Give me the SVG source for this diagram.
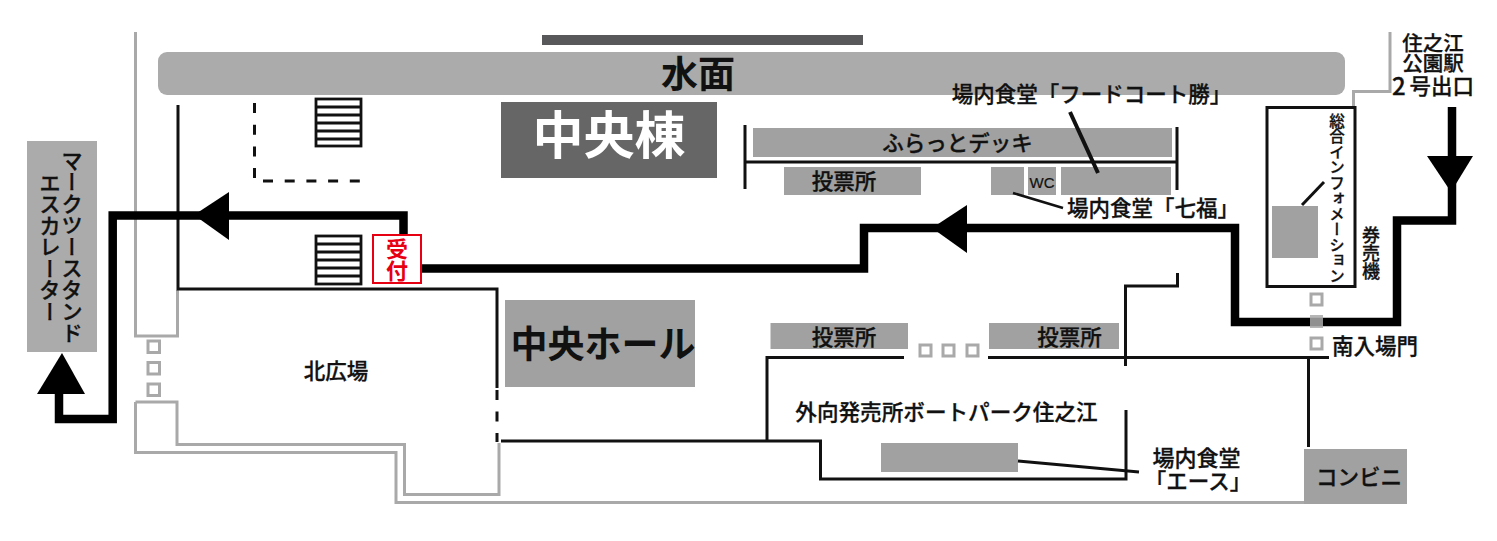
<svg xmlns="http://www.w3.org/2000/svg" width="1497" height="541" viewBox="0 0 1497 541">
<style>
text{font-family:"Noto Sans CJK JP","Noto Sans",sans-serif;fill:#111;stroke:#111;stroke-width:.3;font-size:21.500px;font-weight:500;text-anchor:middle;dominant-baseline:central}
.v{writing-mode:vertical-rl;text-anchor:start;dominant-baseline:auto}
.g{fill:#a0a1a0}
.w{fill:none;stroke:#111;stroke-width:3}
.l{fill:none;stroke:#a8a9a8;stroke-width:3}
.r{fill:none;stroke:#000;stroke-width:8.500}
.sq{fill:#fff;stroke:#a8a9a8;stroke-width:3}
.st{fill:none;stroke:#111;stroke-width:2.800}
.b{font-weight:700;stroke:none}
.red{font-size:22px;font-weight:700;fill:#e60012;stroke:none}
</style>
<g id="walls-grey">
<path class="l" d="M135.500 32V336H177.500V290"/>
<path class="l" d="M135.500 402H177V444.500H404.500V494.500H499V443"/>
<path class="l" d="M135.500 402V452.500H396V502.500H1306"/>
<path class="l" d="M1390 32V91.500H1353.500V107"/>
</g>
<g id="walls-black">
<path class="w" d="M178 105V289H497V388"/>
<path class="w" d="M497 390V442" stroke-dasharray="10 11.500"/>
<path class="w" d="M501 441H820.500V479H1126V410"/>
<path class="w" d="M767 441V357.500H904"/>
<path class="w" d="M988 357.500H1329"/>
<path class="w" d="M1125.500 366V286H1177.500V273"/>
<path class="w" d="M1308.500 357.500V447"/>
<path class="w" d="M745 125V189M1177 127V190M745 162H1177"/>
<path class="w" d="M254.500 103V180" stroke-dasharray="10 11.700"/>
<path class="w" d="M263 181H361" stroke-dasharray="10 11.700"/>
</g>
<g id="water"><rect x="158" y="52" width="1187" height="43" rx="9" fill="#aaabaa"/><text x="698" y="72" class="b" style="font-size:37px">水面</text></g>
<rect id="top-bar" x="542" y="35" width="321" height="10" fill="#58585a"/>
<g id="chuo-to"><rect x="501" y="102" width="216" height="76" fill="#666667"/><text x="609" y="132" class="b" style="font-size:51px;fill:#fff">中央棟</text></g>
<g id="chuo-hall"><rect x="505" y="300" width="190" height="87" fill="#a0a1a0"/><text x="603" y="342" class="b" style="font-size:37px">中央ホール</text></g>
<g id="escalator"><rect x="27" y="141" width="70" height="211" fill="#aaabaa"/><text class="v" x="72" y="150">マークツースタンド</text><text class="v" x="50" y="172">エスカレーター</text></g>
<g id="stairs1"><rect class="st" x="316" y="99" width="45" height="47"/><path class="st" d="M316 107H361M316 115H361M316 123H361M316 131H361M316 139H361"/></g>
<g id="stairs2"><rect class="st" x="316" y="236" width="45" height="48"/><path class="st" d="M316 244H361M316 252H361M316 260H361M316 268H361M316 276H361"/></g>
<g id="north-plaza"><text x="336" y="369.500">北広場</text></g>
<g id="flat-deck"><rect class="g" x="753" y="128" width="419" height="29"/><text x="957.500" y="141.500">ふらっとデッキ</text></g>
<g id="vote1"><rect class="g" x="784" y="167" width="137" height="28"/><text x="844" y="179.500">投票所</text></g>
<g id="shichifuku"><rect class="g" x="991" y="167" width="33" height="28"/></g>
<g id="wc"><rect class="g" x="1028" y="167" width="28" height="28"/><text x="1042" y="182.500" style="font-size:15px;font-family:'Liberation Sans',sans-serif;stroke-width:.2">WC</text></g>
<g id="foodcourt"><rect class="g" x="1061" y="167" width="110" height="28"/></g>
<g id="vote2"><rect class="g" x="770.500" y="323" width="137.500" height="26"/><text x="844" y="335.500">投票所</text></g>
<g id="vote3"><rect class="g" x="989" y="323" width="130" height="26"/><text x="1069.500" y="335.500">投票所</text></g>
<g id="ace"><rect class="g" x="881" y="443" width="137" height="29"/></g>
<g id="conbini"><rect x="1304" y="449" width="103" height="55" fill="#a0a1a0"/><text x="1359" y="475.500">コンビニ</text></g>
<g id="info"><rect x="1267" y="107.500" width="88" height="179" fill="none" stroke="#111" stroke-width="3"/><rect class="g" x="1272" y="206" width="46" height="52"/><text class="v" x="1337" y="113" style="font-size:15.500px">総合インフォメーション</text></g>
<g id="gates">
<rect class="sq" x="148" y="341" width="11.500" height="11.500"/><rect class="sq" x="148" y="362.500" width="11.500" height="11.500"/><rect class="sq" x="148" y="384" width="11.500" height="11.500"/>
<rect class="sq" x="920" y="345" width="11" height="11"/><rect class="sq" x="943" y="345" width="11" height="11"/><rect class="sq" x="967" y="345" width="11" height="11"/>
<rect class="sq" x="1311" y="294" width="11" height="11"/><rect class="sq" x="1311" y="338" width="11" height="11"/>
</g>
<g id="connectors">
<path class="r" d="M1452 107V220.500H1397V322H1235V228H864V268.500H422"/>
<path class="r" d="M403.500 234V215.500H112.700V419H59V393"/>
<polygon points="1427,156 1473,156 1451,192"/>
<polygon points="932,228 967,205 967,253"/>
<polygon points="194,215 229,192 229,240"/>
<polygon points="62,353 37,394 85,394"/>
<rect x="1310" y="315" width="13" height="13" fill="#a8a9a8" fill-opacity=".85"/>
<path d="M1070 112L1098 173" stroke="#111" stroke-width="4" fill="none"/>
<path d="M1013 193L1063 208" stroke="#111" stroke-width="2.500" fill="none"/>
<path d="M1018 461L1139 472" stroke="#111" stroke-width="3" fill="none"/>
<path d="M1302 205L1324 182" stroke="#111" stroke-width="3" fill="none"/>
</g>
<g id="reception"><rect x="373" y="235" width="48" height="48" fill="#fff" stroke="#e60012" stroke-width="2"/><text x="397" y="247" class="red">受</text><text x="397" y="269" class="red">付</text></g>
<g id="labels">
<text x="1091.500" y="92.500">場内食堂「フードコート勝」</text>
<text x="1153" y="206.500">場内食堂「七福」</text>
<text x="946.500" y="410.500" style="font-size:21.600px">外向発売所ボートパーク住之江</text>
<text x="1196.500" y="455.500" style="font-size:22px">場内食堂</text>
<text x="1198" y="479.500">「エース」</text>
<text x="1375" y="344.500">南入場門</text>
<text x="1433" y="41.500" style="font-size:20.500px">住之江</text>
<text x="1433" y="62" style="font-size:20.500px">公園駅</text>
<text x="1433" y="84"><tspan style="font-size:24px">2</tspan><tspan dx="4">号出口</tspan></text>
<text class="v" x="1371" y="226" style="font-size:18px">券売機</text>
</g>
</svg>
